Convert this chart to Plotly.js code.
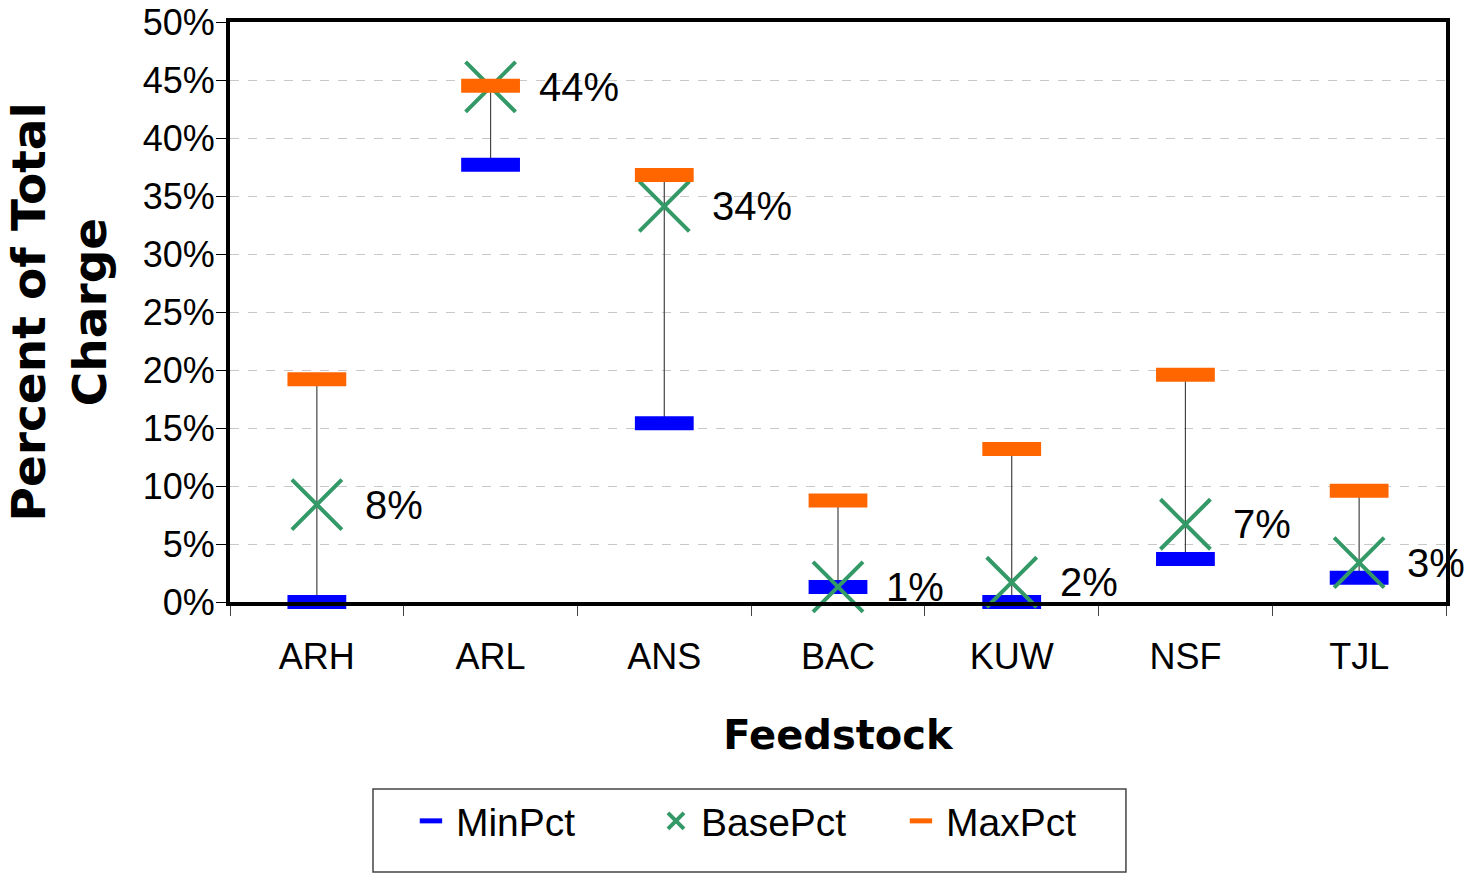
<!DOCTYPE html>
<html>
<head>
<meta charset="utf-8">
<script src="https://cdn.plot.ly/plotly-3.0.1.min.js"></script>
<style>html,body{margin:0;padding:0;background:#fff;}</style>
</head>
<body>
<div id="chart" style="width:1472px;height:873px;"></div>
<script>
const categories = ['ARH', 'ARL', 'ANS', 'BAC', 'KUW', 'NSF', 'TJL'];
const minPct  = [0.000, 0.377, 0.154, 0.013, 0.000, 0.037, 0.021];
const basePct = [0.084, 0.444, 0.341, 0.013, 0.017, 0.067, 0.034];
const maxPct  = [0.192, 0.445, 0.368, 0.0875, 0.132, 0.196, 0.096];
const baseLabels = ['8%', '44%', '34%', '1%', '2%', '7%', '3%'];

const FONT = 'Arial, "Liberation Sans", sans-serif';
const BOLD = '"DejaVu Sans", sans-serif';
const spans = maxPct.map((v, i) => v - minPct[i]);

const traces = [
  {
    name: 'MinPct', type: 'scatter', mode: 'markers',
    x: categories, y: minPct,
    marker: {symbol: 'line-ew', size: 42, color: '#0000FF', line: {color: '#0000FF', width: 14}},
    error_y: {type: 'data', symmetric: false, array: spans, arrayminus: spans.map(() => 0),
              color: '#444444', thickness: 1.2, width: 0},
    cliponaxis: false
  },
  {
    name: 'BasePct', type: 'scatter', mode: 'markers',
    x: categories, y: basePct,
    marker: {symbol: 'x-thin', size: 50, color: '#339966', line: {color: '#339966', width: 4}},
    cliponaxis: false
  },
  {
    name: 'MaxPct', type: 'scatter', mode: 'markers',
    x: categories, y: maxPct,
    marker: {symbol: 'line-ew', size: 42, color: '#FF6600', line: {color: '#FF6600', width: 14}},
    cliponaxis: false
  }
];

const annotations = categories.map((c, i) => ({
  x: c, y: basePct[i], xref: 'x', yref: 'y',
  text: baseLabels[i], showarrow: false,
  xanchor: 'left', yanchor: 'middle', xshift: 46,
  font: {family: FONT, size: 40, color: '#000'}
}));

const layout = {
  width: 1472, height: 873,
  margin: {l: 230, r: 26, t: 22, b: 271},
  paper_bgcolor: '#ffffff', plot_bgcolor: '#ffffff',
  showlegend: true,
  font: {family: FONT, color: '#000'},
  xaxis: {
    type: 'category', range: [-0.5, 6.5], autorange: false,
    showline: true, linecolor: '#000', linewidth: 4, mirror: true,
    ticks: 'outside', tickson: 'boundaries', ticklen: 10, tickcolor: '#444', tickwidth: 1,
    tickfont: {family: FONT, size: 36, color: '#000'},
    ticklabelstandoff: 20,
    showgrid: false, zeroline: false,
    title: {text: '<b>Feedstock</b>', font: {family: BOLD, size: 40, color: '#000'}, standoff: 46}
  },
  yaxis: {
    range: [0, 0.5], dtick: 0.05, tickformat: '.0%', autorange: false,
    showline: true, linecolor: '#000', linewidth: 4, mirror: true,
    ticks: 'outside', ticklen: 10, tickcolor: '#000', tickwidth: 1,
    tickfont: {family: FONT, size: 36, color: '#000'},
    ticklabelstandoff: -6,
    showgrid: true, gridcolor: '#c8c8c8', griddash: 'dash', gridwidth: 1,
    zeroline: false,
    title: {text: '<b>Percent of Total<br>Charge</b>', font: {family: BOLD, size: 47, color: '#000'}, standoff: 22}
  },
  legend: {
    orientation: 'h',
    x: 0.1447, xanchor: 'left',
    y: -0.3776, yanchor: 'middle',
    borderwidth: 0, bgcolor: 'rgba(0,0,0,0)',
    font: {family: FONT, size: 39, color: '#000'},
    entrywidth: 190, itemwidth: 40
  },
  shapes: [{
    type: 'rect', xref: 'paper', yref: 'paper',
    x0: 0.1176, x1: 0.7368, y0: -0.3224, y1: -0.4655,
    line: {color: '#444', width: 1.5}, fillcolor: 'rgba(0,0,0,0)', layer: 'below'
  }],
  annotations: annotations
};

Plotly.newPlot('chart', traces, layout, {displayModeBar: false, staticPlot: true});
</script>
</body>
</html>
